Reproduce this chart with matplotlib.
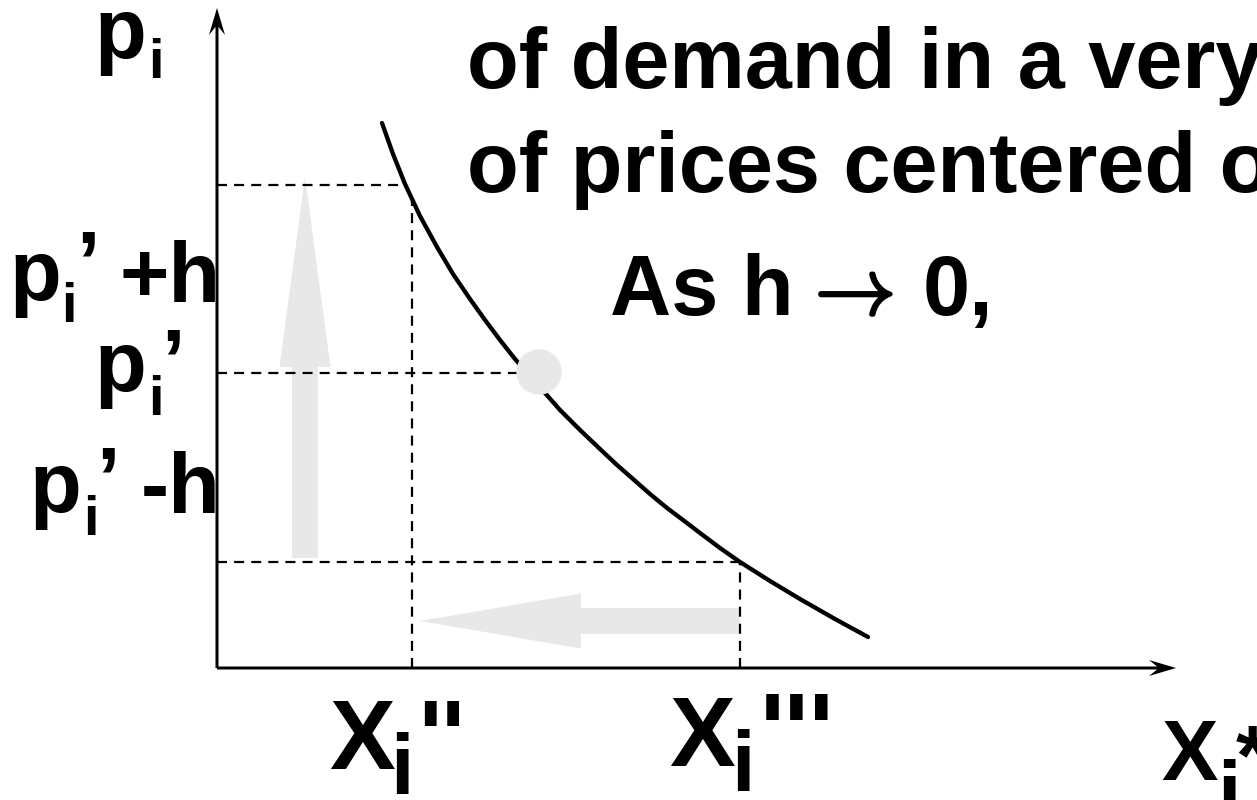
import matplotlib.pyplot as plt
import matplotlib.patheffects as pe
from matplotlib.patches import Circle, FancyArrow

plt.rcParams['font.family'] = ['Liberation Sans', 'DejaVu Sans']
plt.rcParams['font.weight'] = 'bold'

# demand curve, quantity vs price
quantity = [1.65, 1.76, 1.88, 2.03, 2.20, 2.36, 2.53, 2.68, 2.83, 2.98, 3.13, 3.28, 3.43, 3.63,
            3.83, 4.00, 4.16, 4.33, 4.50, 4.66, 4.83, 5.03, 5.23, 5.53, 5.83, 6.18, 6.51]
price = [5.45, 5.14, 4.84, 4.52, 4.21, 3.94, 3.69, 3.48, 3.28, 3.09, 2.92, 2.75, 2.58, 2.38,
         2.19, 2.03, 1.89, 1.74, 1.60, 1.48, 1.35, 1.20, 1.06, 0.87, 0.69, 0.49, 0.31]

# price levels p'-h, p', p'+h and where they meet the curve
p_lo, p_mid, p_hi = 1.06, 2.95, 4.83
x_at_hi = 1.88
x2 = 1.95       # X''
x2_top = 4.69
x3 = 5.23       # X'''
point = (3.22, 2.96)

GRAY = '#e8e8e8'
BIG = 61
SUB = 40

fig = plt.figure(figsize=(12.57, 8), dpi=100)
ax = fig.add_axes([0, 0, 1, 1])
ax.set_xlim(-2.17, 10.40)
ax.set_ylim(-1.32, 6.68)
ax.axis('off')

# axes with arrow heads
ax.add_patch(FancyArrow(0, 0, 0, 6.60, width=0.03, head_width=0.16, head_length=0.27,
                        overhang=0.3, length_includes_head=True, color='black', lw=0))
ax.add_patch(FancyArrow(0, 0, 9.59, 0, width=0.03, head_width=0.16, head_length=0.27,
                        overhang=0.3, length_includes_head=True, color='black', lw=0))

# dashed guide lines
dash = dict(color='black', lw=1.6, dashes=(4.5, 3.2))
ax.plot([0, x_at_hi], [p_hi, p_hi], **dash)
ax.plot([x2, x2], [0, x2_top], **dash)
ax.plot([0, point[0]], [p_mid, p_mid], **dash)
ax.plot([0, x3], [p_lo, p_lo], **dash)
ax.plot([x3, x3], [0, p_lo], **dash)

# light arrows: price up, quantity down
ax.add_patch(FancyArrow(0.88, 1.10, 0, 3.81, width=0.26, head_width=0.51, head_length=1.90,
                        length_includes_head=True, color=GRAY, lw=0, zorder=1))
ax.add_patch(FancyArrow(x3, 0.47, 2.03 - x3, 0, width=0.26, head_width=0.55, head_length=1.61,
                        length_includes_head=True, color=GRAY, lw=0, zorder=1))

ax.plot(quantity, price, color='black', lw=3.1, solid_capstyle='round',
        solid_joinstyle='round', zorder=3)
ax.add_patch(Circle(point, 0.22, color=GRAY, zorder=4))

# y labels
ax.text(-1.23, 6.10, 'p', fontsize=BIG)
ax.text(-0.69, 5.90, 'i', fontsize=SUB)

ax.text(-2.08, 3.68, 'p', fontsize=BIG)
ax.text(-1.56, 3.46, 'i', fontsize=SUB)
ax.text(-1.41, 3.77, '\u2019', fontsize=BIG)
ax.text(0.04, 3.66, '+h', fontsize=BIG, ha='right')

ax.text(-1.23, 2.77, 'p', fontsize=BIG)
ax.text(-0.69, 2.53, 'i', fontsize=SUB)
ax.text(-0.56, 2.80, '\u2019', fontsize=BIG)

ax.text(-1.88, 1.56, 'p', fontsize=BIG)
ax.text(-1.34, 1.33, 'i', fontsize=SUB)
ax.text(-1.21, 1.62, '\u2019', fontsize=BIG)
ax.text(0.04, 1.55, '-h', fontsize=BIG, ha='right')

# x labels
ax.text(1.12, -1.01, 'X', fontsize=71)
ax.text(1.73, -1.26, 'i', fontsize=61)
ax.text(2.01, -1.01, "''", fontsize=71)

ax.text(4.52, -0.98, 'X', fontsize=71)
ax.text(5.14, -1.23, 'i', fontsize=61)
ax.text(5.43, -0.98, "'''", fontsize=75)

ax.text(9.44, -1.12, 'X', fontsize=61)
ax.text(10.00, -1.53, 'i', fontsize=61)
ax.text(10.19, -1.16, '*', fontsize=61)

# text on the right
ax.text(2.50, 5.80, 'of demand in a very', fontsize=BIG)
ax.text(2.50, 4.76, 'of prices centered on', fontsize=BIG)
ax.text(3.93, 3.53, 'As h', fontsize=BIG)
ax.text(5.84, 3.53, r'$\rightarrow$', fontsize=58, math_fontfamily='cm',
        path_effects=[pe.withStroke(linewidth=2.2, foreground='black')])
ax.text(7.06, 3.53, '0,', fontsize=BIG)

fig.savefig('out.png', dpi=100)
